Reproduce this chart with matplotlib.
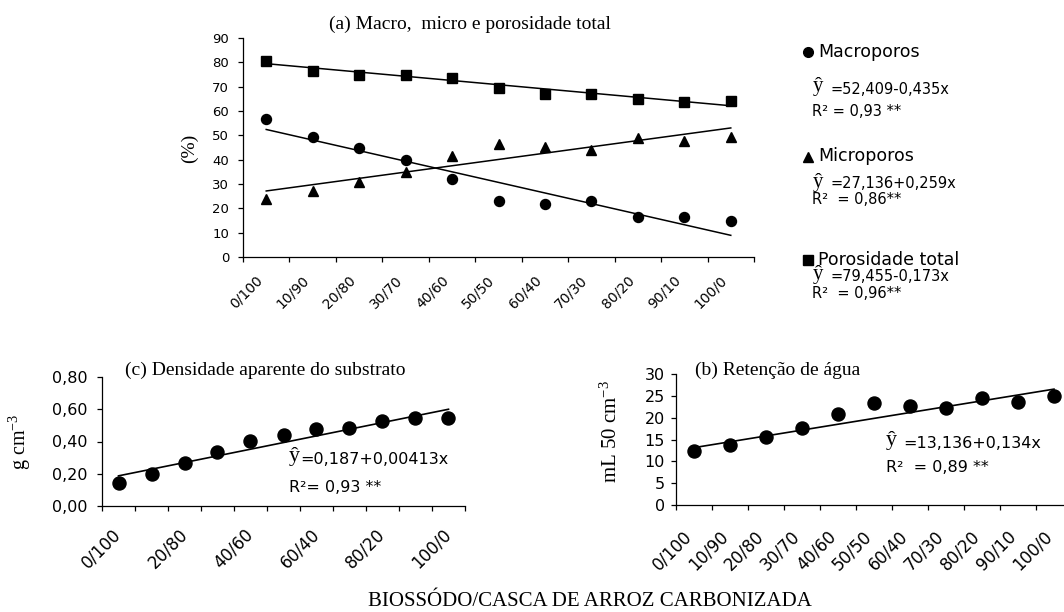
import matplotlib
matplotlib.use('Agg')
import matplotlib.pyplot as plt
import matplotlib.transforms as mtransforms
import numpy as np
from matplotlib.lines import Line2D

plt.rcParams['font.family'] = 'DejaVu Sans'
plt.rcParams['mathtext.fontset'] = 'custom'
plt.rcParams['mathtext.rm'] = 'Liberation Serif'
plt.rcParams['mathtext.it'] = 'Liberation Serif:italic'

# data
cats = ['0/100', '10/90', '20/80', '30/70', '40/60', '50/50',
        '60/40', '70/30', '80/20', '90/10', '100/0']
pct = [0, 10, 20, 30, 40, 50, 60, 70, 80, 90, 100]

macro = [56.8, 49.5, 44.7, 39.9, 32.1, 23.1, 21.9, 23.0, 16.4, 16.4, 14.6]
micro = [24.0, 27.0, 30.7, 34.8, 41.5, 46.4, 45.1, 44.0, 48.7, 47.5, 49.5]
total = [80.7, 76.5, 75.0, 74.9, 73.6, 69.4, 66.9, 67.0, 64.8, 63.6, 64.1]
dens = [0.143, 0.200, 0.264, 0.335, 0.403, 0.443, 0.476, 0.484, 0.530, 0.544, 0.544]
reten = [12.4, 13.7, 15.5, 17.7, 20.9, 23.4, 22.7, 22.3, 24.4, 23.7, 24.9]

# regression coefficients (intercept, slope) printed on the chart
macro_fit = (52.409, -0.435)
micro_fit = (27.136, 0.259)
total_fit = (79.455, -0.173)
dens_fit = (0.187, 0.00413)
reten_fit = (13.136, 0.134)

W, H = 1064, 612
fig = plt.figure(figsize=(W / 100, H / 100), dpi=100)


def box(x0, y0, x1, y1):
    # pixel box -> figure fraction
    return [x0 / W, 1 - y1 / H, (x1 - x0) / W, (y1 - y0) / H]


def ftext(x, y, s, **kw):
    fig.text(x / W, 1 - y / H, s, **kw)


def style_axes(ax, fs, ypad):
    for sp in ['top', 'right']:
        ax.spines[sp].set_visible(False)
    for sp in ['left', 'bottom']:
        ax.spines[sp].set_linewidth(0.9)
    ax.set_xlim(-0.5, len(cats) - 0.5)
    ax.set_xticks(np.arange(-0.5, len(cats), 1), minor=True)
    ax.set_xticks([])
    ax.tick_params(axis='x', which='minor', length=3.5, width=0.9, direction='out')
    ax.tick_params(axis='y', length=3.5, width=0.9, direction='out', labelsize=fs, pad=ypad)


def xlabels(ax, pos, labels, fs, dx, dy):
    # rotated category labels, shifted by (dx, dy) pixels from the category centre
    off = mtransforms.ScaledTranslation(dx / 100, dy / 100, fig.dpi_scale_trans)
    tr = ax.get_xaxis_transform() + off
    for x, s in zip(pos, labels):
        ax.text(x, 0, s, transform=tr, rotation=45, ha='right', va='center',
                rotation_mode='anchor', fontsize=fs, clip_on=False)


xi = np.arange(len(cats))
p = np.array(pct)

# (a) Macro, micro e porosidade total
axA = fig.add_axes(box(243, 38, 754, 257))
style_axes(axA, 9.5, 6.5)
axA.plot(xi, macro, 'o', color='black', ms=7.2, clip_on=False)
axA.plot(xi, micro, '^', color='black', ms=7.7, clip_on=False)
axA.plot(xi, total, 's', color='black', ms=7.5, clip_on=False)
for a, b in [macro_fit, micro_fit, total_fit]:
    axA.plot([xi[0], xi[-1]], [a + b * p[0], a + b * p[-1]], color='black', lw=1.1)
axA.set_ylim(0, 90)
axA.set_yticks(range(0, 91, 10))
xlabels(axA, xi, cats, 10, -6, -21)

ftext(470, 24, '(a) Macro,  micro e porosidade total', family='Liberation Serif',
      fontsize=14, ha='center', va='center')
ftext(189, 148, '(%)', family='Liberation Serif', fontsize=14, rotation=90,
      ha='center', va='center')

# legend block at the right of (a)
for mk, yy in [('o', 52), ('^', 157), ('s', 260)]:
    fig.add_artist(Line2D([808 / W], [1 - yy / H], marker=mk, color='black',
                          ms=7, linestyle='none'))
ftext(818, 52, 'Macroporos', fontsize=12.5, va='center')
ftext(818, 156, 'Microporos', fontsize=12.5, va='center')
ftext(818, 260, 'Porosidade total', fontsize=12.5, va='center')

leg_eq = [(89, '=52,409-0,435x', 111, 'R² = 0,93 **'),
          (184, '=27,136+0,259x', 199, 'R²  = 0,86**'),
          (277, '=79,455-0,173x', 293, 'R²  = 0,96**')]
for ye, eq, yr, r2 in leg_eq:
    ftext(813, ye - 2, 'ŷ', family='Liberation Serif', fontsize=15, va='center')
    ftext(830, ye, eq, fontsize=10.5, va='center')
    ftext(812, yr, r2, fontsize=10.5, va='center')

# (c) Densidade aparente do substrato
axC = fig.add_axes(box(102, 377, 465, 506))
style_axes(axC, 11.5, 7)
axC.plot(xi, dens, 'o', color='black', ms=9.4, clip_on=False)
axC.plot([xi[0], xi[-1]], [dens_fit[0] + dens_fit[1] * p[0], dens_fit[0] + dens_fit[1] * p[-1]],
         color='black', lw=1.2)
axC.set_ylim(0, 0.8)
axC.set_yticks(np.arange(0, 0.81, 0.2))
axC.set_yticklabels([('%.2f' % v).replace('.', ',') for v in np.arange(0, 0.81, 0.2)])
xlabels(axC, xi[::2], cats[::2], 12, 0, -26)

ftext(265, 370, '(c) Densidade aparente do substrato', family='Liberation Serif',
      fontsize=14, ha='center', va='center')
ftext(20, 442, r'g cm$^{\mathrm{-3}}$', family='Liberation Serif', fontsize=14.5,
      rotation=90, ha='center', va='center')
ftext(289, 456, 'ŷ', family='Liberation Serif', fontsize=16, va='center')
ftext(300, 459, '=0,187+0,00413x', fontsize=11.5, va='center')
ftext(289, 487, 'R²= 0,93 **', fontsize=11.5, va='center')

# (b) Retencao de agua
axB = fig.add_axes(box(676, 374, 1072, 505))
style_axes(axB, 11.5, 4.5)
axB.plot(xi, reten, 'o', color='black', ms=9.4, clip_on=False)
axB.plot([xi[0], xi[-1]], [reten_fit[0] + reten_fit[1] * p[0], reten_fit[0] + reten_fit[1] * p[-1]],
         color='black', lw=1.2)
axB.set_ylim(0, 30)
axB.set_yticks(range(0, 31, 5))
xlabels(axB, xi, cats, 12, -5, -29)

ftext(778, 370, '(b) Retenção de água', family='Liberation Serif', fontsize=14,
      ha='center', va='center')
ftext(611, 432, r'mL 50 cm$^{\mathrm{-3}}$', family='Liberation Serif', fontsize=15,
      rotation=90, ha='center', va='center')
ftext(886, 440, 'ŷ', family='Liberation Serif', fontsize=16, va='center')
ftext(903, 443, '=13,136+0,134x', fontsize=11.5, va='center')
ftext(886, 468, 'R²  = 0,89 **', fontsize=11.5, va='center')

ftext(590, 601, 'BIOSSÓDO/CASCA DE ARROZ CARBONIZADA', family='Liberation Serif',
      fontsize=15, ha='center', va='center')

fig.savefig('out.png', dpi=100)
